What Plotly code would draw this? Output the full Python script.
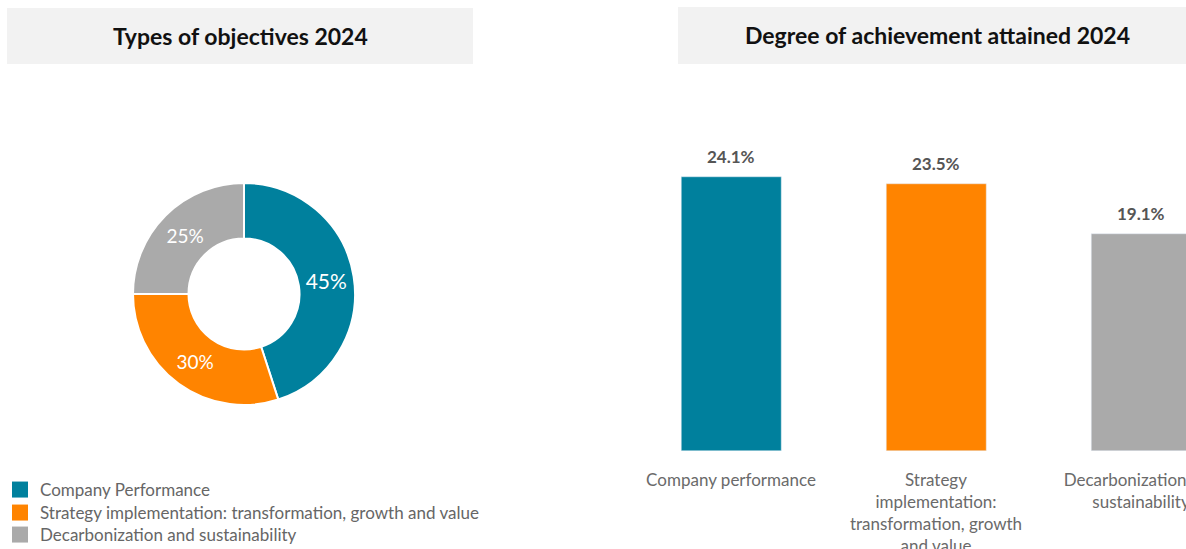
import plotly.graph_objects as go

# Data
pie_labels = ["Company Performance",
              "Strategy implementation: transformation, growth and value",
              "Decarbonization and sustainability"]
pie_values = [45, 30, 25]

bar_categories = ["Company performance",
                  "Strategy<br>implementation:<br>transformation, growth<br>and value",
                  "Decarbonization and<br>sustainability"]
bar_values = [24.1, 23.5, 19.1]

colors = ["#00809D", "#FF8400", "#AAAAAA"]
FONT = "Lato"
W, H = 1186, 549

fig = go.Figure()

# Donut
fig.add_trace(go.Pie(
    labels=pie_labels, values=pie_values, hole=0.5, sort=False,
    direction="clockwise", rotation=0,
    marker=dict(colors=colors, line=dict(color="white", width=2)),
    texttemplate="%{percent:.0%}",
    textposition="inside", insidetextorientation="horizontal",
    textfont=dict(family=FONT, size=[21, 19, 19], color="white"),
    domain=dict(x=[(244 - 111) / W, (244 + 111) / W],
                y=[(H - 294 - 111) / H, (H - 294 + 111) / H]),
    showlegend=False, hoverinfo="skip",
))

# Legend entries (square markers), one legend per row
legend_names = ["legend", "legend2", "legend3"]
for lab, col, lg in zip(pie_labels, colors, legend_names):
    fig.add_trace(go.Scatter(
        x=[None], y=[None], mode="markers", name=lab,
        marker=dict(symbol="square", size=16, color=col),
        showlegend=True, legend=lg, xaxis="x", yaxis="y",
    ))

# Bars
xs = list(range(len(bar_values)))
fig.add_trace(go.Bar(
    x=xs, y=bar_values,
    marker=dict(color=colors), width=100 / 205,
    showlegend=False, hoverinfo="skip",
))

# Value labels above bars (anchored to data coordinates)
value_annotations = [
    dict(x=x, y=v, xref="x", yref="y", text=f"<b>{v:.1f}%</b>",
         showarrow=False, xanchor="center", yanchor="bottom", yshift=8,
         font=dict(family=FONT, size=17, color="#555555"))
    for x, v in zip(xs, bar_values)
]

scale = (451 - 177) / 24.1  # px per unit
x_left = 731 - 102.5
legend_common = dict(xanchor="left", yanchor="middle",
                     font=dict(family=FONT, size=17, color="#666666"),
                     bgcolor="rgba(0,0,0,0)", itemwidth=30)
fig.update_layout(
    width=W, height=H,
    margin=dict(l=0, r=0, t=0, b=0, autoexpand=False),
    paper_bgcolor="white", plot_bgcolor="white",
    font=dict(family=FONT, color="#666666"),
    xaxis=dict(domain=[x_left / W, 1.0], automargin=False,
               range=[-0.5, (W - x_left) / 205 - 0.5],
               tickmode="array", tickvals=xs,
               ticktext=bar_categories, ticklabelstandoff=17,
               ticklabeloverflow="allow",
               tickfont=dict(family=FONT, size=17, color="#6a6a6a"),
               showgrid=False, zeroline=False, showline=False, ticks=""),
    yaxis=dict(domain=[(H - 451) / H, 1.0], range=[0, 451 / scale],
               visible=False, showgrid=False, zeroline=False, automargin=False),
    legend=dict(x=0, y=(H - 490) / H, **legend_common),
    legend2=dict(x=0, y=(H - 513) / H, **legend_common),
    legend3=dict(x=0, y=(H - 535) / H, **legend_common),
    bargap=0,
    shapes=[
        dict(type="rect", xref="paper", yref="paper",
             x0=7 / W, x1=473 / W, y0=(H - 64) / H, y1=(H - 8) / H,
             fillcolor="#F2F2F2", line=dict(width=0), layer="below"),
        dict(type="rect", xref="paper", yref="paper",
             x0=678 / W, x1=1.0, y0=(H - 64) / H, y1=(H - 7) / H,
             fillcolor="#F2F2F2", line=dict(width=0), layer="below"),
    ],
    annotations=[
        dict(text="<b>Types of objectives 2024</b>", xref="paper", yref="paper",
             x=240 / W, y=(H - 36) / H, xanchor="center", yanchor="middle",
             showarrow=False, font=dict(family=FONT, size=23, color="#111111")),
        dict(text="<b>Degree of achievement attained 2024</b>", xref="paper", yref="paper",
             x=937 / W, y=(H - 35) / H, xanchor="center", yanchor="middle",
             showarrow=False, font=dict(family=FONT, size=23, color="#111111")),
    ] + value_annotations,
)

fig.write_html("out.html")
